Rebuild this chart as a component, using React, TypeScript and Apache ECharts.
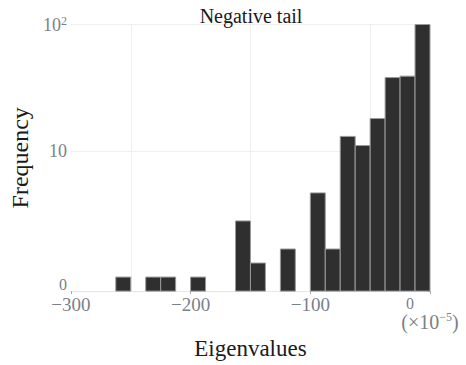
import React, { useEffect, useRef } from "react";
import * as echarts from "echarts";

// Histogram bins (left edges, ×10⁻⁵) and counts
const binStarts = [
  -300, -287.5, -275, -262.5, -250, -237.5, -225, -212.5, -200, -187.5, -175, -162.5,
  -150, -137.5, -125, -112.5, -100, -87.5, -75, -62.5, -50, -37.5, -25, -12.5,
];
const counts = [0, 0, 0, 1, 0, 1, 1, 0, 1, 0, 0, 5, 2, 0, 3, 0, 7, 3, 13, 11, 18, 38, 39, 100];
const binWidth = 12.5;

const xTicks = [-300, -200, -100, 0];
const xGrid = [-250, -150, -50];
const yTickValues = [0, 10, 100];

// symlog transform (linthresh 10, base 10, linscale 1)
const LIN = 1 / (1 - 1 / 10);
const symlog = (v: number) => (v <= 10 ? (v / 10) * LIN : LIN + Math.log10(v / 10));

const SERIF = "'Liberation Serif', 'DejaVu Serif', serif";
const GRAY = "#7b7f88";

export default function App() {
  const ref = useRef<HTMLDivElement>(null);
  useEffect(() => {
    if (!ref.current) return;
    const chart = echarts.init(ref.current, undefined, { renderer: "svg" });
    const data = binStarts
      .map((s, i) => [s, s + binWidth, symlog(counts[i]), counts[i]])
      .filter((d) => d[3] > 0);
    const yMax = symlog(100);
    const yLabelMap = (v: number) => {
      if (Math.abs(v - symlog(100)) < 1e-6) return "{n|10}{s|2}";
      if (Math.abs(v - symlog(10)) < 1e-6) return "{n|10}";
      return "{o|0}";
    };
    chart.setOption({
      animation: false,
      title: {
        text: "Negative tail",
        left: 246,
        textAlign: "center",
        top: 1,
        textStyle: { fontFamily: SERIF, fontSize: 20, fontWeight: "normal", color: "#1a1a1a" },
      },
      grid: { left: 62, right: 36, top: 24.5, bottom: 64 },
      xAxis: {
        type: "value",
        min: -300,
        max: 0,
        interval: 100,
        name: "Eigenvalues",
        nameLocation: "middle",
        nameGap: 36,
        nameTextStyle: { fontFamily: SERIF, fontSize: 23, color: "#1a1a1a" },
        axisLine: { show: true, lineStyle: { color: "#e6e6e6", width: 1 } },
        axisTick: { show: true, length: 3, lineStyle: { color: "#aaa" } },
        splitLine: { show: false },
        axisLabel: {
          margin: 4,
          color: GRAY,
          fontFamily: SERIF,
          fontSize: 19,
          customValues: xTicks,
          formatter: (v: number) =>
            v === 0 ? "{z|0}\n{m|(×10}{s|−5}{m|)}" : v < 0 ? "−" + Math.abs(v) : String(v),
          rich: {
            z: { fontFamily: SERIF, fontSize: 16, color: GRAY, padding: [0, 40, 0, 0], lineHeight: 16 },
            m: { fontFamily: SERIF, fontSize: 20, color: GRAY, lineHeight: 22 },
            s: { fontFamily: SERIF, fontSize: 12, color: GRAY, verticalAlign: "top", lineHeight: 22 },
          },
        },
      },
      yAxis: {
        type: "value",
        min: 0,
        max: yMax,
        name: "Frequency",
        nameLocation: "middle",
        nameGap: 31,
        nameTextStyle: { fontFamily: SERIF, fontSize: 24, color: "#1a1a1a" },
        axisLine: { show: false },
        axisTick: {
          show: true,
          length: 2,
          customValues: yTickValues.map(symlog),
          lineStyle: { color: "#aaa" },
        },
        splitLine: { show: false },
        axisLabel: {
          margin: 4,
          color: GRAY,
          customValues: yTickValues.map(symlog),
          formatter: yLabelMap,
          rich: {
            n: { fontFamily: SERIF, fontSize: 18, color: GRAY, lineHeight: 20 },
            o: { fontFamily: SERIF, fontSize: 16, color: GRAY, lineHeight: 15, padding: [0, 0, 14, 0] },
            s: { fontFamily: SERIF, fontSize: 12, color: GRAY, verticalAlign: "top", lineHeight: 20 },
          },
        },
      },
      series: [
        {
          type: "line",
          data: [],
          silent: true,
          z: 1,
          markLine: {
            silent: true,
            symbol: "none",
            z: 1,
            label: { show: false },
            lineStyle: { color: "#efefef", width: 1, type: "solid" },
            data: [
              ...xGrid.map((x) => ({ xAxis: x })),
              ...yTickValues.slice(1).map((v) => ({ yAxis: symlog(v) })),
            ],
          },
        },
        {
          type: "custom",
          z: 5,
          data,
          encode: { x: [0, 1], y: 2 },
          renderItem: (params: any, api: any) => {
            const p0 = api.coord([api.value(0), api.value(2)]);
            const p1 = api.coord([api.value(1), 0]);
            return {
              type: "rect",
              shape: { x: p0[0], y: p0[1], width: p1[0] - p0[0], height: p1[1] - p0[1] },
              style: { fill: "#2f2f2f", stroke: "#9a9a9a", lineWidth: 1 },
            };
          },
        },
      ],
    });
    return () => chart.dispose();
  }, []);
  return (
    <div
      ref={ref}
      style={{ position: "fixed", left: 0, top: 0, width: 466, height: 365, background: "#fff" }}
    />
  );
}
